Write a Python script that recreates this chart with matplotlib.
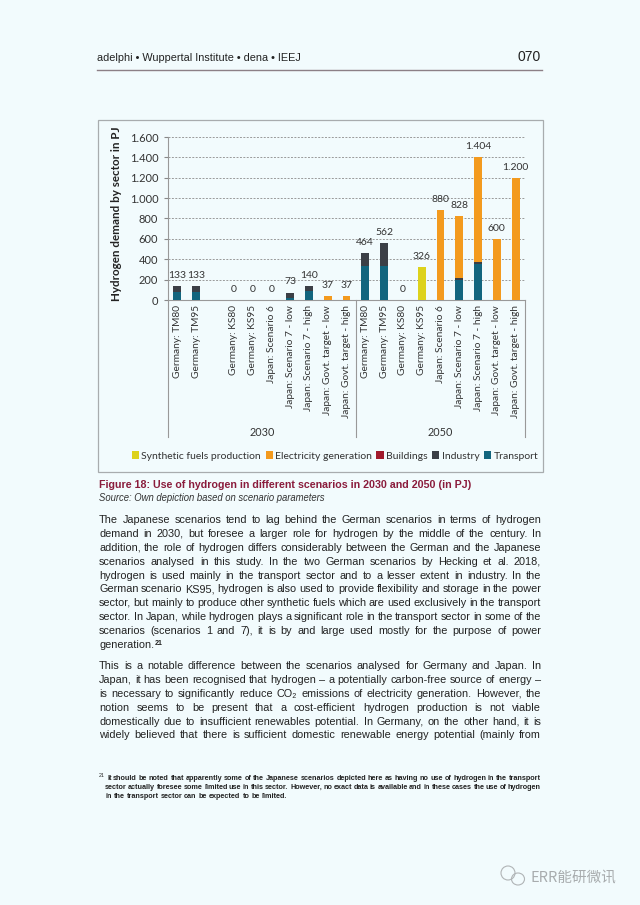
import numpy as np
import matplotlib
matplotlib.use("Agg")
import matplotlib.pyplot as plt
from matplotlib.patches import Rectangle, Ellipse
from matplotlib.lines import Line2D

# data (PJ)
categories = ["Germany: TM80", "Germany: TM95", "", "Germany: KS80", "Germany: KS95",
              "Japan: Scenario 6", "Japan: Scenario 7 - low", "Japan: Scenario 7 - high",
              "Japan: Govt. target - low", "Japan: Govt. target - high",
              "Germany: TM80", "Germany: TM95", "Germany: KS80", "Germany: KS95",
              "Japan: Scenario 6", "Japan: Scenario 7 - low", "Japan: Scenario 7 - high",
              "Japan: Govt. target - low", "Japan: Govt. target - high"]
years = ["2030", "2050"]
year_sizes = [10, 9]
transport = [80, 80, 0, 0, 0, 0, 20, 87, 0, 0, 330, 337, 0, 0, 0, 200, 353, 0, 0]
industry = [53, 53, 0, 0, 0, 0, 53, 53, 0, 0, 134, 225, 0, 0, 0, 17, 23, 0, 0]
buildings = [0] * 19
electricity = [0, 0, 0, 0, 0, 0, 0, 0, 37, 37, 0, 0, 0, 0, 880, 611, 1028, 600, 1200]
synthetic = [0, 0, 0, 0, 0, 0, 0, 0, 0, 0, 0, 0, 0, 326, 0, 0, 0, 0, 0]
totals = [133, 133, None, 0, 0, 0, 73, 140, 37, 37, 464, 562, 0, 326, 880, 828, 1404, 600, 1200]
yticks = [0, 200, 400, 600, 800, 1000, 1200, 1400, 1600]

W, H = 640, 905
bg = "#f2fbfd"
fig = plt.figure(figsize=(W / 100, H / 100), dpi=100, facecolor=bg)
body = ["Liberation Sans", "DejaVu Sans"]
cfont = ["Lato", "DejaVu Sans"]

def fx(px):
    return px / W

def fy(py):
    return 1 - py / H

# header
fig.text(fx(97), fy(61), "adelphi \u2022 Wuppertal Institute \u2022 dena \u2022 IEEJ", family=body,
         fontsize=7.8, color="#222222", va="baseline")
fig.text(fx(541), fy(61), "070", family=body, fontsize=10, color="#222222", ha="right", va="baseline")
fig.add_artist(Line2D([fx(97), fx(542)], [fy(70), fy(70)], color="#8c7f86", lw=1.0))

# chart frame
fig.add_artist(Rectangle((fx(98), fy(472)), fx(543) - fx(98), fy(120) - fy(472),
                         transform=fig.transFigure, fill=False, ec="#a8acae", lw=0.9))

ax = fig.add_axes([fx(168), fy(300), fx(525) - fx(168), fy(137) - fy(300)])
ax.set_facecolor("none")
x = np.arange(len(categories))
w = 0.42
series = [(transport, "Transport", "#12657e"),
          (industry, "Industry", "#3b3f46"),
          (buildings, "Buildings", "#a11a2c"),
          (electricity, "Electricity generation", "#f39a1e"),
          (synthetic, "Synthetic fuels production", "#ddd21c")]
bottom = np.zeros(len(categories))
handles = {}
for vals, name, col in series:
    v = np.array(vals, dtype=float)
    handles[name] = ax.bar(x, v, w, bottom=bottom, color=col, label=name, zorder=3)
    bottom += v

for xi, t in zip(x, totals):
    if t is None:
        continue
    ax.text(xi, t + 60, f"{t:,}".replace(",", "."), ha="center", va="bottom",
            family=cfont, fontsize=7.5, color="#333333", clip_on=False)

ax.set_xlim(-0.5, len(categories) - 0.5)
ax.set_ylim(0, 1600)
ax.set_yticks(yticks)
ax.set_yticklabels([f"{v:,}".replace(",", ".") for v in yticks], family=cfont, fontsize=8, color="#333333")
ax.yaxis.grid(True, ls=(0, (2, 1.5)), color="#9a9a9a", lw=0.7, zorder=0)
ax.tick_params(axis="y", length=3, color="#888888", pad=4)
ax.set_xticks([])
for s in ["top", "right"]:
    ax.spines[s].set_visible(False)
ax.spines["left"].set_color("#999999")
ax.spines["bottom"].set_color("#999999")
ax.spines["left"].set_linewidth(0.8)
ax.spines["bottom"].set_linewidth(0.8)

tr = ax.get_xaxis_transform()
drop = -(437 - 300) / 163
start = -0.5
for yr, n in zip(years, year_sizes):
    ax.plot([start, start], [0, drop], transform=tr, color="#999999", lw=0.8, clip_on=False)
    ax.text(start + n / 2, -(432 - 300) / 163, yr, transform=tr, ha="center", va="center",
            family=cfont, fontsize=7.8, color="#333333")
    start += n
ax.plot([start, start], [0, drop], transform=tr, color="#999999", lw=0.8, clip_on=False)

for xi, c in zip(x, categories):
    ax.text(xi, -(305 - 300) / 163, c, transform=tr, rotation=90, ha="center", va="top",
            family=cfont, fontsize=7.3, color="#333333")

fig.text(fx(117), fy(214), "Hydrogen demand by sector in PJ", rotation=90, ha="center", va="center",
         family=cfont, fontsize=8.4, fontweight="bold", color="#222222")

order = ["Synthetic fuels production", "Electricity generation", "Buildings", "Industry", "Transport"]
fig.legend([handles[k] for k in order], order, loc="center", bbox_to_anchor=(fx(335), fy(456)),
           ncol=5, frameon=False, handlelength=0.7, handleheight=0.7, handletextpad=0.2,
           columnspacing=0.45, prop={"family": cfont, "size": 7.5}, labelcolor="#333333")

# caption
fig.text(fx(99), fy(488), "Figure 18: Use of hydrogen in different scenarios in 2030 and 2050 (in PJ)",
         family=body, fontsize=7.7, fontweight="bold", color="#8a1c3c", va="baseline")
fig.text(fx(99), fy(501), "Source: Own depiction based on scenario parameters",
         family=body, fontsize=6.85, style="italic", color="#333333", va="baseline")

renderer = fig.canvas.get_renderer()

def put_line(line, x0, x1, y, size, justify=True, weight="normal"):
    words = line.split(" ")
    ts = [fig.text(0, fy(y), wd, family=body, fontsize=size, fontweight=weight,
                   color="#222222", va="baseline") for wd in words]
    widths = [t.get_window_extent(renderer).width for t in ts]
    space = fig.text(0, 0, "a a", family=body, fontsize=size).get_window_extent(renderer).width - \
        fig.text(0, 0, "aa", family=body, fontsize=size).get_window_extent(renderer).width
    fig.texts = fig.texts[:-2]
    if justify and len(words) > 1:
        gap = (x1 - x0 - sum(widths)) / (len(words) - 1)
    else:
        gap = space
    cx = x0
    for t, wd in zip(ts, widths):
        t.set_x(fx(cx))
        cx += wd + gap
    return cx - gap

para1 = ["The Japanese scenarios tend to lag behind the German scenarios in terms of hydrogen",
         "demand in 2030, but foresee a larger role for hydrogen by the middle of the century. In",
         "addition, the role of hydrogen differs considerably between the German and the Japanese",
         "scenarios analysed in this study. In the two German scenarios by Hecking et al. 2018,",
         "hydrogen is used mainly in the transport sector and to a lesser extent in industry. In the",
         "German scenario KS95, hydrogen is also used to provide flexibility and storage in the power",
         "sector, but mainly to produce other synthetic fuels which are used exclusively in the transport",
         "sector. In Japan, while hydrogen plays a significant role in the transport sector in some of the",
         "scenarios (scenarios 1 and 7), it is by and large used mostly for the purpose of power",
         "generation."]
para2 = ["This is a notable difference between the scenarios analysed for Germany and Japan. In",
         "Japan, it has been recognised that hydrogen \u2013 a potentially carbon-free source of energy \u2013",
         "is necessary to significantly reduce CO\u2082 emissions of electricity generation. However, the",
         "notion seems to be present that a cost-efficient hydrogen production is not viable",
         "domestically due to insufficient renewables potential. In Germany, on the other hand, it is",
         "widely believed that there is sufficient domestic renewable energy potential (mainly from"]
foot = ["It should be noted that apparently some of the Japanese scenarios depicted here as having no use of hydrogen in the transport",
        "sector actually foresee some limited use in this sector. However, no exact data is available and in these cases the use of hydrogen",
        "in the transport sector can be expected to be limited."]

bs = 7.8
y = 523
for i, ln in enumerate(para1):
    end = put_line(ln, 99, 541, y, bs, justify=i < len(para1) - 1)
    last_y = y
    y += 13.9
fig.text(fx(end + 1), fy(last_y - 3.5), "21", family=body, fontsize=5, fontweight="bold",
         color="#222222", va="baseline")

y = 669
for ln in para2:
    put_line(ln, 99, 541, y, bs)
    y += 13.9

fig.text(fx(99), fy(777), "21", family=body, fontsize=3.8, color="#222222", va="baseline")
y = 780
for i, ln in enumerate(foot):
    put_line(ln, 107 if i == 0 else 105, 541, y, 5.2, justify=i < 2, weight="bold")
    y += 8.8

# watermark
fig.add_artist(Ellipse((fx(508), fy(873)), fx(14), 14 / H, transform=fig.transFigure,
                       fill=False, ec="#b0b4b6", lw=0.8))
fig.add_artist(Ellipse((fx(518), fy(879)), fx(13), 12 / H, transform=fig.transFigure,
                       fill=False, ec="#b0b4b6", lw=0.8))
fig.text(fx(530), fy(878), "ERR能研微讯", family=["Noto Sans CJK SC", "DejaVu Sans"],
         fontsize=10.5, color="#a8acae", va="center")

fig.savefig("out.png", dpi=100, facecolor=bg)
